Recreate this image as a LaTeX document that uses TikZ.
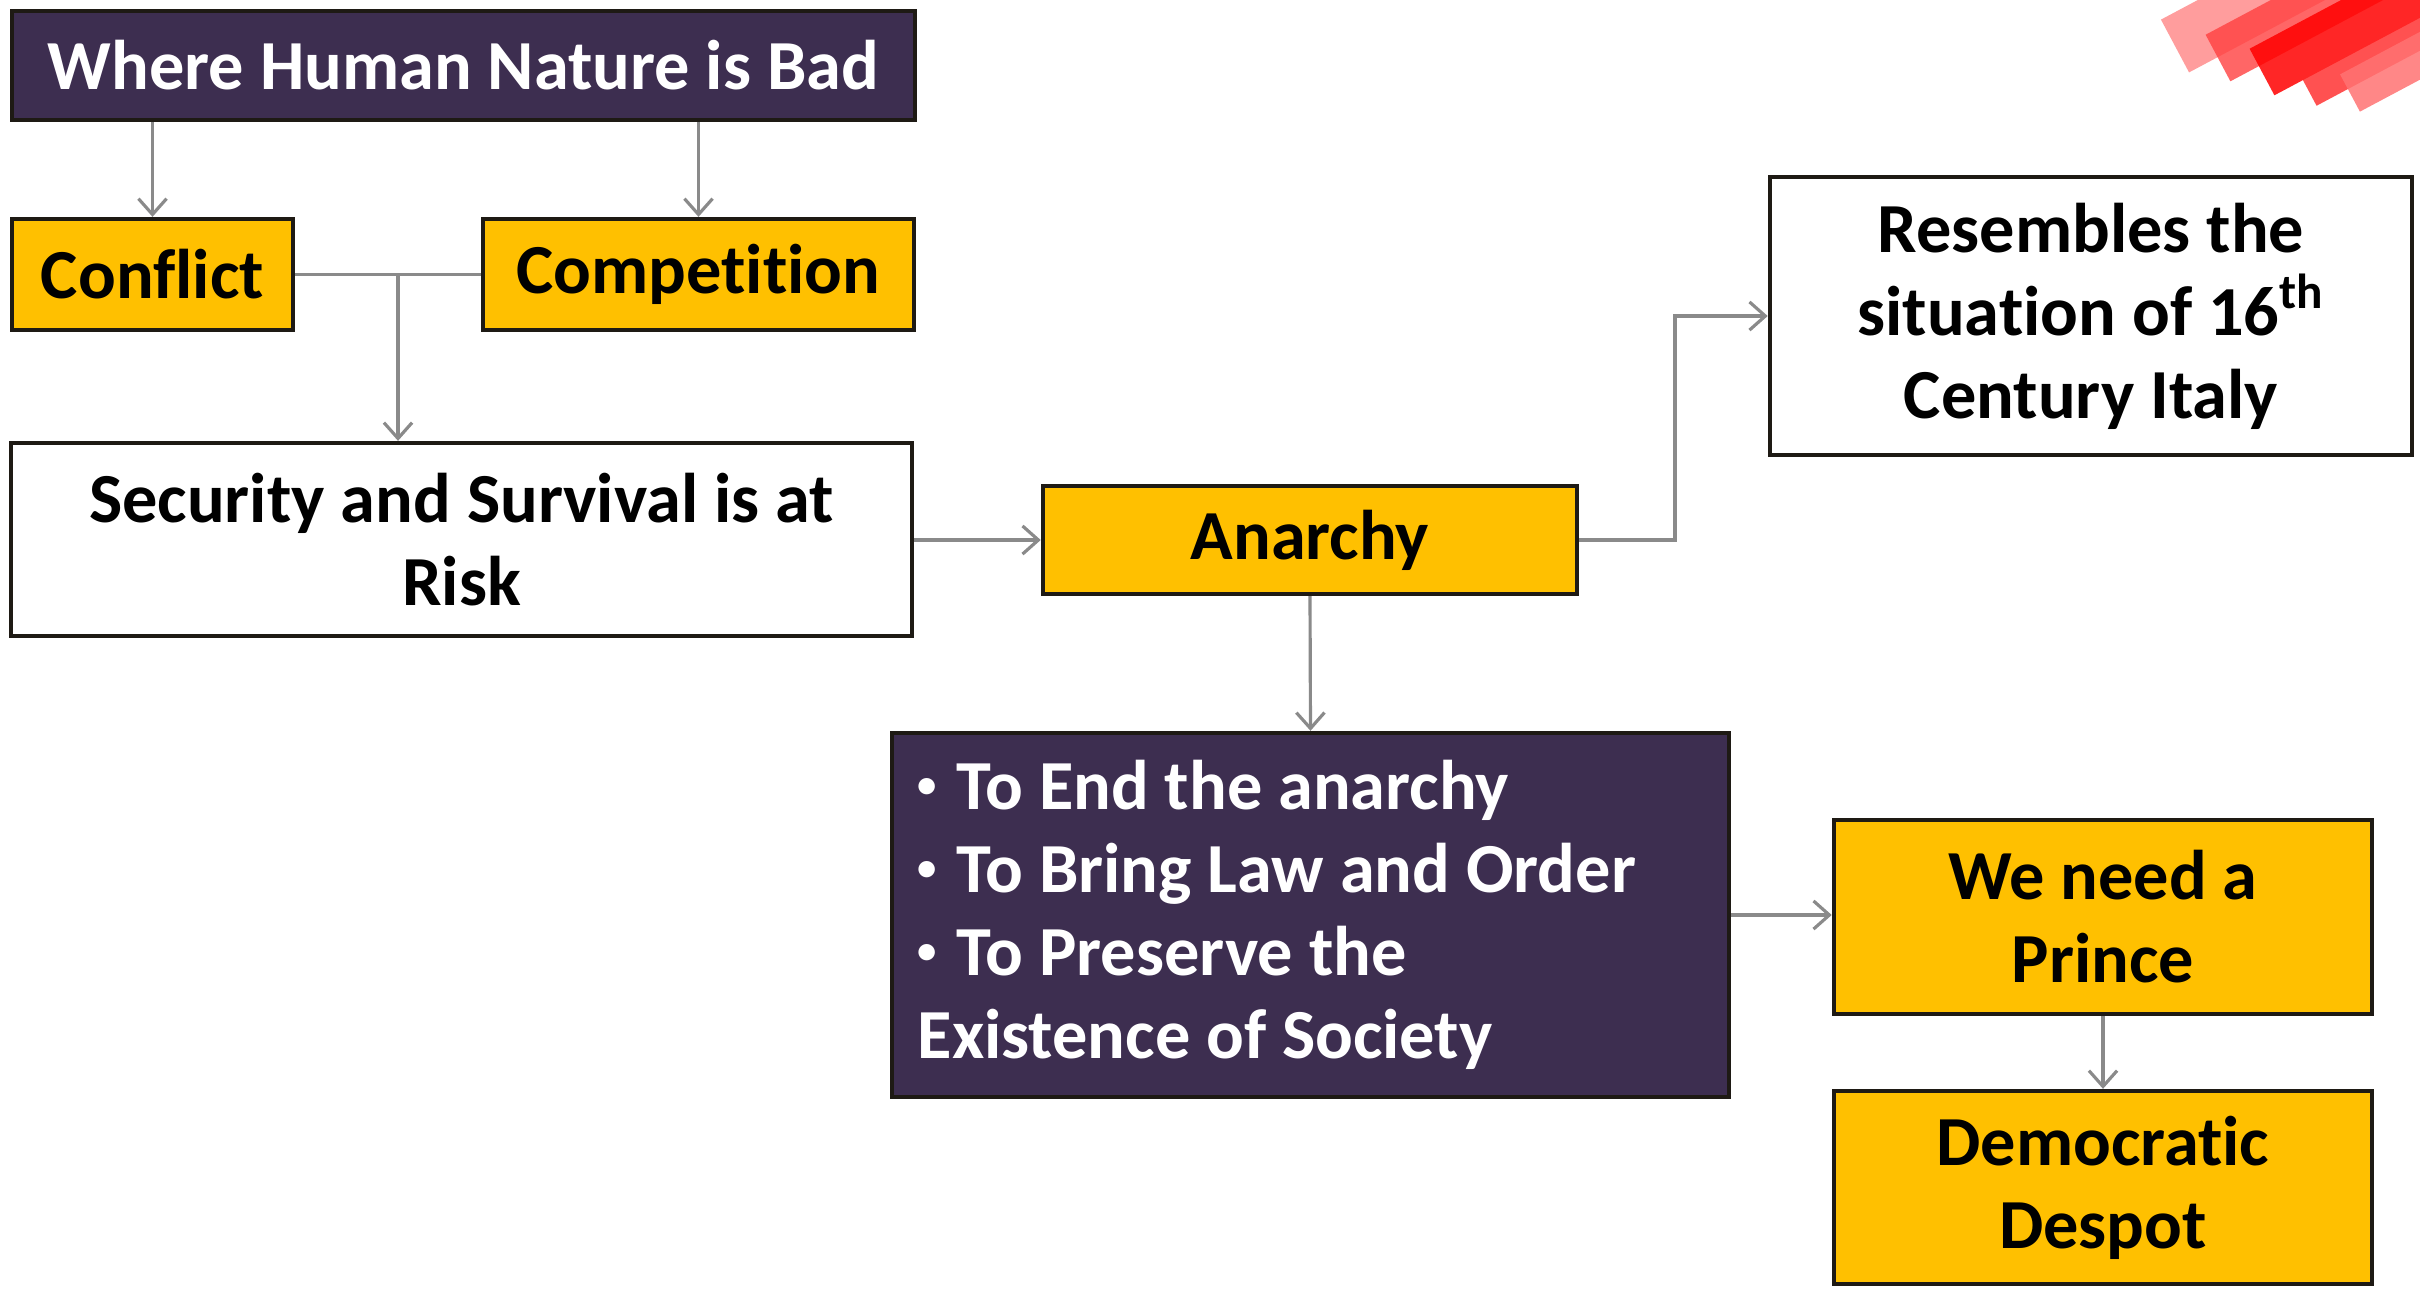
\documentclass[tikz,border=0pt]{standalone}
\usepackage{fontspec}
\setmainfont{Carlito}[Ligatures=NoCommon]
\usetikzlibrary{arrows.meta,calc}
\definecolor{boxpurple}{HTML}{3D2E50}
\definecolor{boxyellow}{HTML}{FFC000}
\definecolor{conngray}{HTML}{8A8A8A}
\definecolor{boxedge}{HTML}{1E1A14}
\newcommand{\smallbul}{\raisebox{0.18em}{\scalebox{0.55}{\textbullet}}\hspace{0.28em}}
\begin{document}
\begin{tikzpicture}[x=0.01cm,y=-0.01cm,
  base/.style={draw=boxedge,line width=1.2pt,inner sep=0pt,align=center,
    font=\fontsize{20}{23.6}\selectfont\bfseries},
  purplebox/.style={base,fill=boxpurple,text=white},
  yellowbox/.style={base,fill=boxyellow,text=black},
  whitebox/.style={base,fill=white,text=black},
  plaintext/.style={inner sep=0pt,align=left,text=white,
    font=\fontsize{20}{23.6}\selectfont\bfseries},
  conn/.style={draw=conngray,line width=0.9pt},
  arr/.style={conn,-{Straight Barb[length=4.5pt,width=8pt]}}]
\fill[white] (0,0) rectangle (2420,1290);
\useasboundingbox (0,0) rectangle (2420,1290);

% red marker scribble (top right)
\begin{scope}
  \clip (0,0) rectangle (2420,1290);
  \draw[line width=17pt,red!45,opacity=0.85] (2175,46) -- ++(310,-165);
  \draw[line width=15pt,red!75,opacity=0.8] (2218,58) -- ++(310,-165);
  \draw[line width=15pt,red,opacity=0.85] (2262,72) -- ++(310,-165);
  \draw[line width=14pt,red!85,opacity=0.8] (2305,84) -- ++(310,-165);
  \draw[line width=12pt,red!55,opacity=0.85] (2350,93) -- ++(310,-165);
\end{scope}

\node[purplebox,minimum width=9.03cm,minimum height=1.09cm] (top) at (463.5,65.5) {Where Human Nature is Bad};
\node[yellowbox,minimum width=2.81cm,minimum height=1.11cm] (conflict) at (152.5,274.5) {Conflict};
\node[yellowbox,minimum width=4.31cm,minimum height=1.11cm] (competition) at (698.5,274.5) {Competition};
\node[whitebox,minimum width=9.01cm,minimum height=1.93cm] (security) at (461.5,539.5) {Security and Survival is at\\Risk};
\node[yellowbox,minimum width=5.34cm,minimum height=1.08cm] (anarchy) at (1310,540) {Anarchy};
\node[whitebox,minimum width=6.42cm,minimum height=2.78cm] (resembles) at (2091,316) {Resembles the\\situation of 16\textsuperscript{th}\\Century Italy};
\node[purplebox,minimum width=8.37cm,minimum height=3.64cm] (bullets) at (1310.5,915) {};
\node[plaintext,anchor=west] (bulletstext) at (917,915)
  {\smallbul To End the anarchy\\\smallbul To Bring Law and Order\\\smallbul To Preserve the\\Existence of Society};
\node[yellowbox,minimum width=5.38cm,minimum height=1.94cm] (prince) at (2103,917) {We need a\\Prince};
\node[yellowbox,minimum width=5.38cm,minimum height=1.93cm] (despot) at (2103,1187.5) {Democratic\\Despot};

\draw[arr] (top.south -| conflict) -- (conflict.north);
\draw[arr] (top.south -| competition) -- (competition.north);
\draw[conn] (conflict.east) -- (competition.west);
\coordinate (join) at (398,274.5);
\draw[arr] (join) -- (join |- security.north);
\draw[arr] (security.east |- anarchy.west) -- (anarchy.west);
\coordinate (bend) at (1675,540);
\draw[arr] (anarchy.east) -- (bend) |- (resembles.west);
\draw[arr] (anarchy.south) -- (bullets.north);
\draw[arr] (bullets.east) -- (bullets.east -| prince.west);
\draw[arr] (prince.south) -- (despot.north);
\end{tikzpicture}
\end{document}
